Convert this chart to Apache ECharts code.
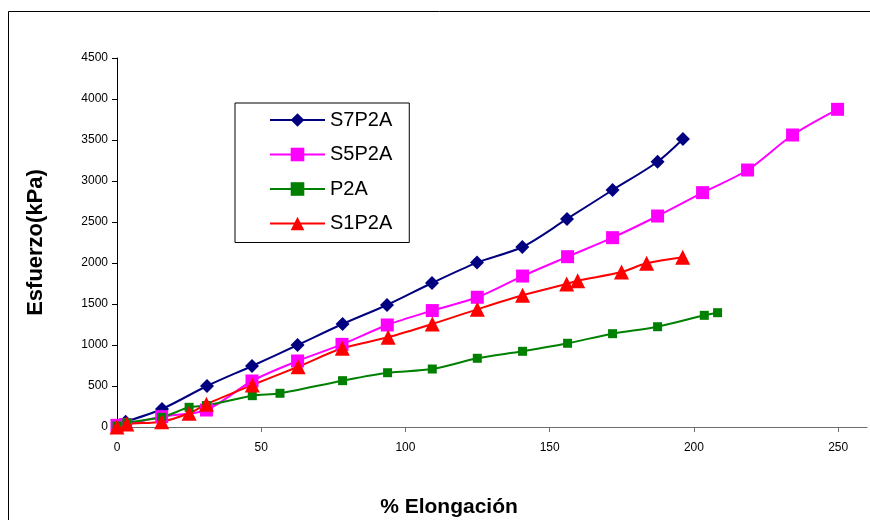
<!DOCTYPE html>
<html>
<head>
<meta charset="utf-8">
<script src="https://cdn.jsdelivr.net/npm/echarts@6/dist/echarts.min.js"></script>
<style>
  html, body { margin: 0; padding: 0; background: #fff; }
  #chart { width: 870px; height: 520px; }
</style>
</head>
<body>
<div id="chart"></div>
<script>
// Stress (kPa) versus elongation (%) for each formulation
const seriesNames = ['S7P2A', 'S5P2A', 'P2A', 'S1P2A'];

const s7x = [3, 15.6, 31.2, 46.8, 62.6, 78.2, 93.6, 109.2, 124.8, 140.5, 156, 171.8, 187.4, 196.2];
const s7y = [65, 220, 500, 744, 1000, 1256, 1488, 1756, 2005, 2195, 2537, 2890, 3235, 3512];

const s5x = [0, 3, 15.5, 31, 46.8, 62.6, 78, 93.7, 109.3, 124.9, 140.6, 156.2, 171.8, 187.4, 203, 218.6, 234.2, 249.8];
const s5y = [20, 30, 126, 207, 561, 805, 1008, 1244, 1420, 1582, 1841, 2077, 2309, 2573, 2858, 3134, 3561, 3874];

const p2x = [0, 3.4, 15.5, 25, 31, 46.9, 56.5, 78.2, 93.8, 109.3, 124.9, 140.6, 156.2, 171.8, 187.4, 203.6, 208.2];
const p2y = [12, 52, 118, 240, 262, 382, 411, 565, 662, 707, 838, 923, 1021, 1138, 1223, 1362, 1394];

const s1x = [0, 3.4, 15.5, 25, 31, 46.9, 62.8, 78.1, 94, 109.3, 124.9, 140.6, 155.9, 159.7, 174.9, 183.6, 196.1];
const s1y = [0, 37, 65, 167, 277, 512, 735, 960, 1094, 1256, 1435, 1606, 1744, 1784, 1890, 1996, 2069];

const xTicks = [0, 50, 100, 150, 200, 250];
const yTicks = [0, 500, 1000, 1500, 2000, 2500, 3000, 3500, 4000, 4500];

const pairs = (xs, ys) => xs.map((x, i) => [x, ys[i]]);

const FONT = '"Liberation Sans", Arial, sans-serif';

const chart = echarts.init(document.getElementById('chart'), null, { renderer: 'canvas' });

function lineSeries(name, data, color, symbol, size) {
  return {
    name: name,
    type: 'line',
    data: data,
    smooth: 0.3,
    symbol: symbol,
    symbolSize: size,
    showAllSymbol: true,
    lineStyle: { color: color, width: 2 },
    itemStyle: { color: color },
    emphasis: { disabled: true },
    animation: false
  };
}

chart.setOption({
  animation: false,
  backgroundColor: '#fff',
  grid: { left: 117, top: 58, right: 3, bottom: 93, containLabel: false },
  legend: {
    orient: 'vertical',
    left: 235,
    top: 103,
    padding: [7, 17, 9, 34],
    backgroundColor: '#fff',
    borderColor: '#000',
    borderWidth: 1,
    itemWidth: 55,
    itemHeight: 17,
    itemGap: 14.5,
    textStyle: { fontFamily: FONT, fontSize: 20, color: '#000' },
    data: seriesNames
  },
  xAxis: {
    type: 'value',
    min: 0,
    max: 260,
    interval: 50,
    splitLine: { show: false },
    axisLine: { show: true, lineStyle: { color: '#6e6e6e', width: 1 } },
    axisTick: { show: true, length: 5, lineStyle: { color: '#6e6e6e' } },
    axisLabel: {
      showMaxLabel: false,
      margin: 15,
      fontFamily: FONT, fontSize: 12, color: '#000',
      formatter: v => (xTicks.indexOf(v) >= 0 ? String(v) : '')
    }
  },
  yAxis: {
    type: 'value',
    min: 0,
    max: 4500,
    interval: 500,
    splitLine: { show: false },
    axisLine: { show: true, lineStyle: { color: '#000', width: 1 } },
    axisTick: { show: true, length: 5, lineStyle: { color: '#000' } },
    axisLabel: {
      margin: 9,
      fontFamily: FONT, fontSize: 12, color: '#000',
      formatter: v => (yTicks.indexOf(v) >= 0 ? String(v) : '')
    },
    name: 'Esfuerzo(kPa)',
    nameLocation: 'middle',
    nameGap: 70,
    nameTextStyle: { fontFamily: FONT, fontSize: 22, fontWeight: 'bold', color: '#000' }
  },
  graphic: [
    {
      type: 'rect',
      silent: true,
      z: -10,
      shape: { x: 8.5, y: 11.5, width: 900, height: 600 },
      style: { fill: 'none', stroke: '#000', lineWidth: 1 }
    },
    {
      type: 'text',
      silent: true,
      x: 449,
      y: 507,
      style: {
        text: '% Elongación',
        font: 'bold 21px ' + FONT,
        fill: '#000',
        textAlign: 'center',
        textVerticalAlign: 'middle'
      }
    }
  ],
  series: [
    lineSeries('S7P2A', pairs(s7x, s7y), '#000080', 'diamond', 14),
    lineSeries('S5P2A', pairs(s5x, s5y), '#ff00ff', 'rect', 13),
    lineSeries('P2A', pairs(p2x, p2y), '#008000', 'rect', 9),
    lineSeries('S1P2A', pairs(s1x, s1y), '#ff0000', 'triangle', 15)
  ]
});
</script>
</body>
</html>
